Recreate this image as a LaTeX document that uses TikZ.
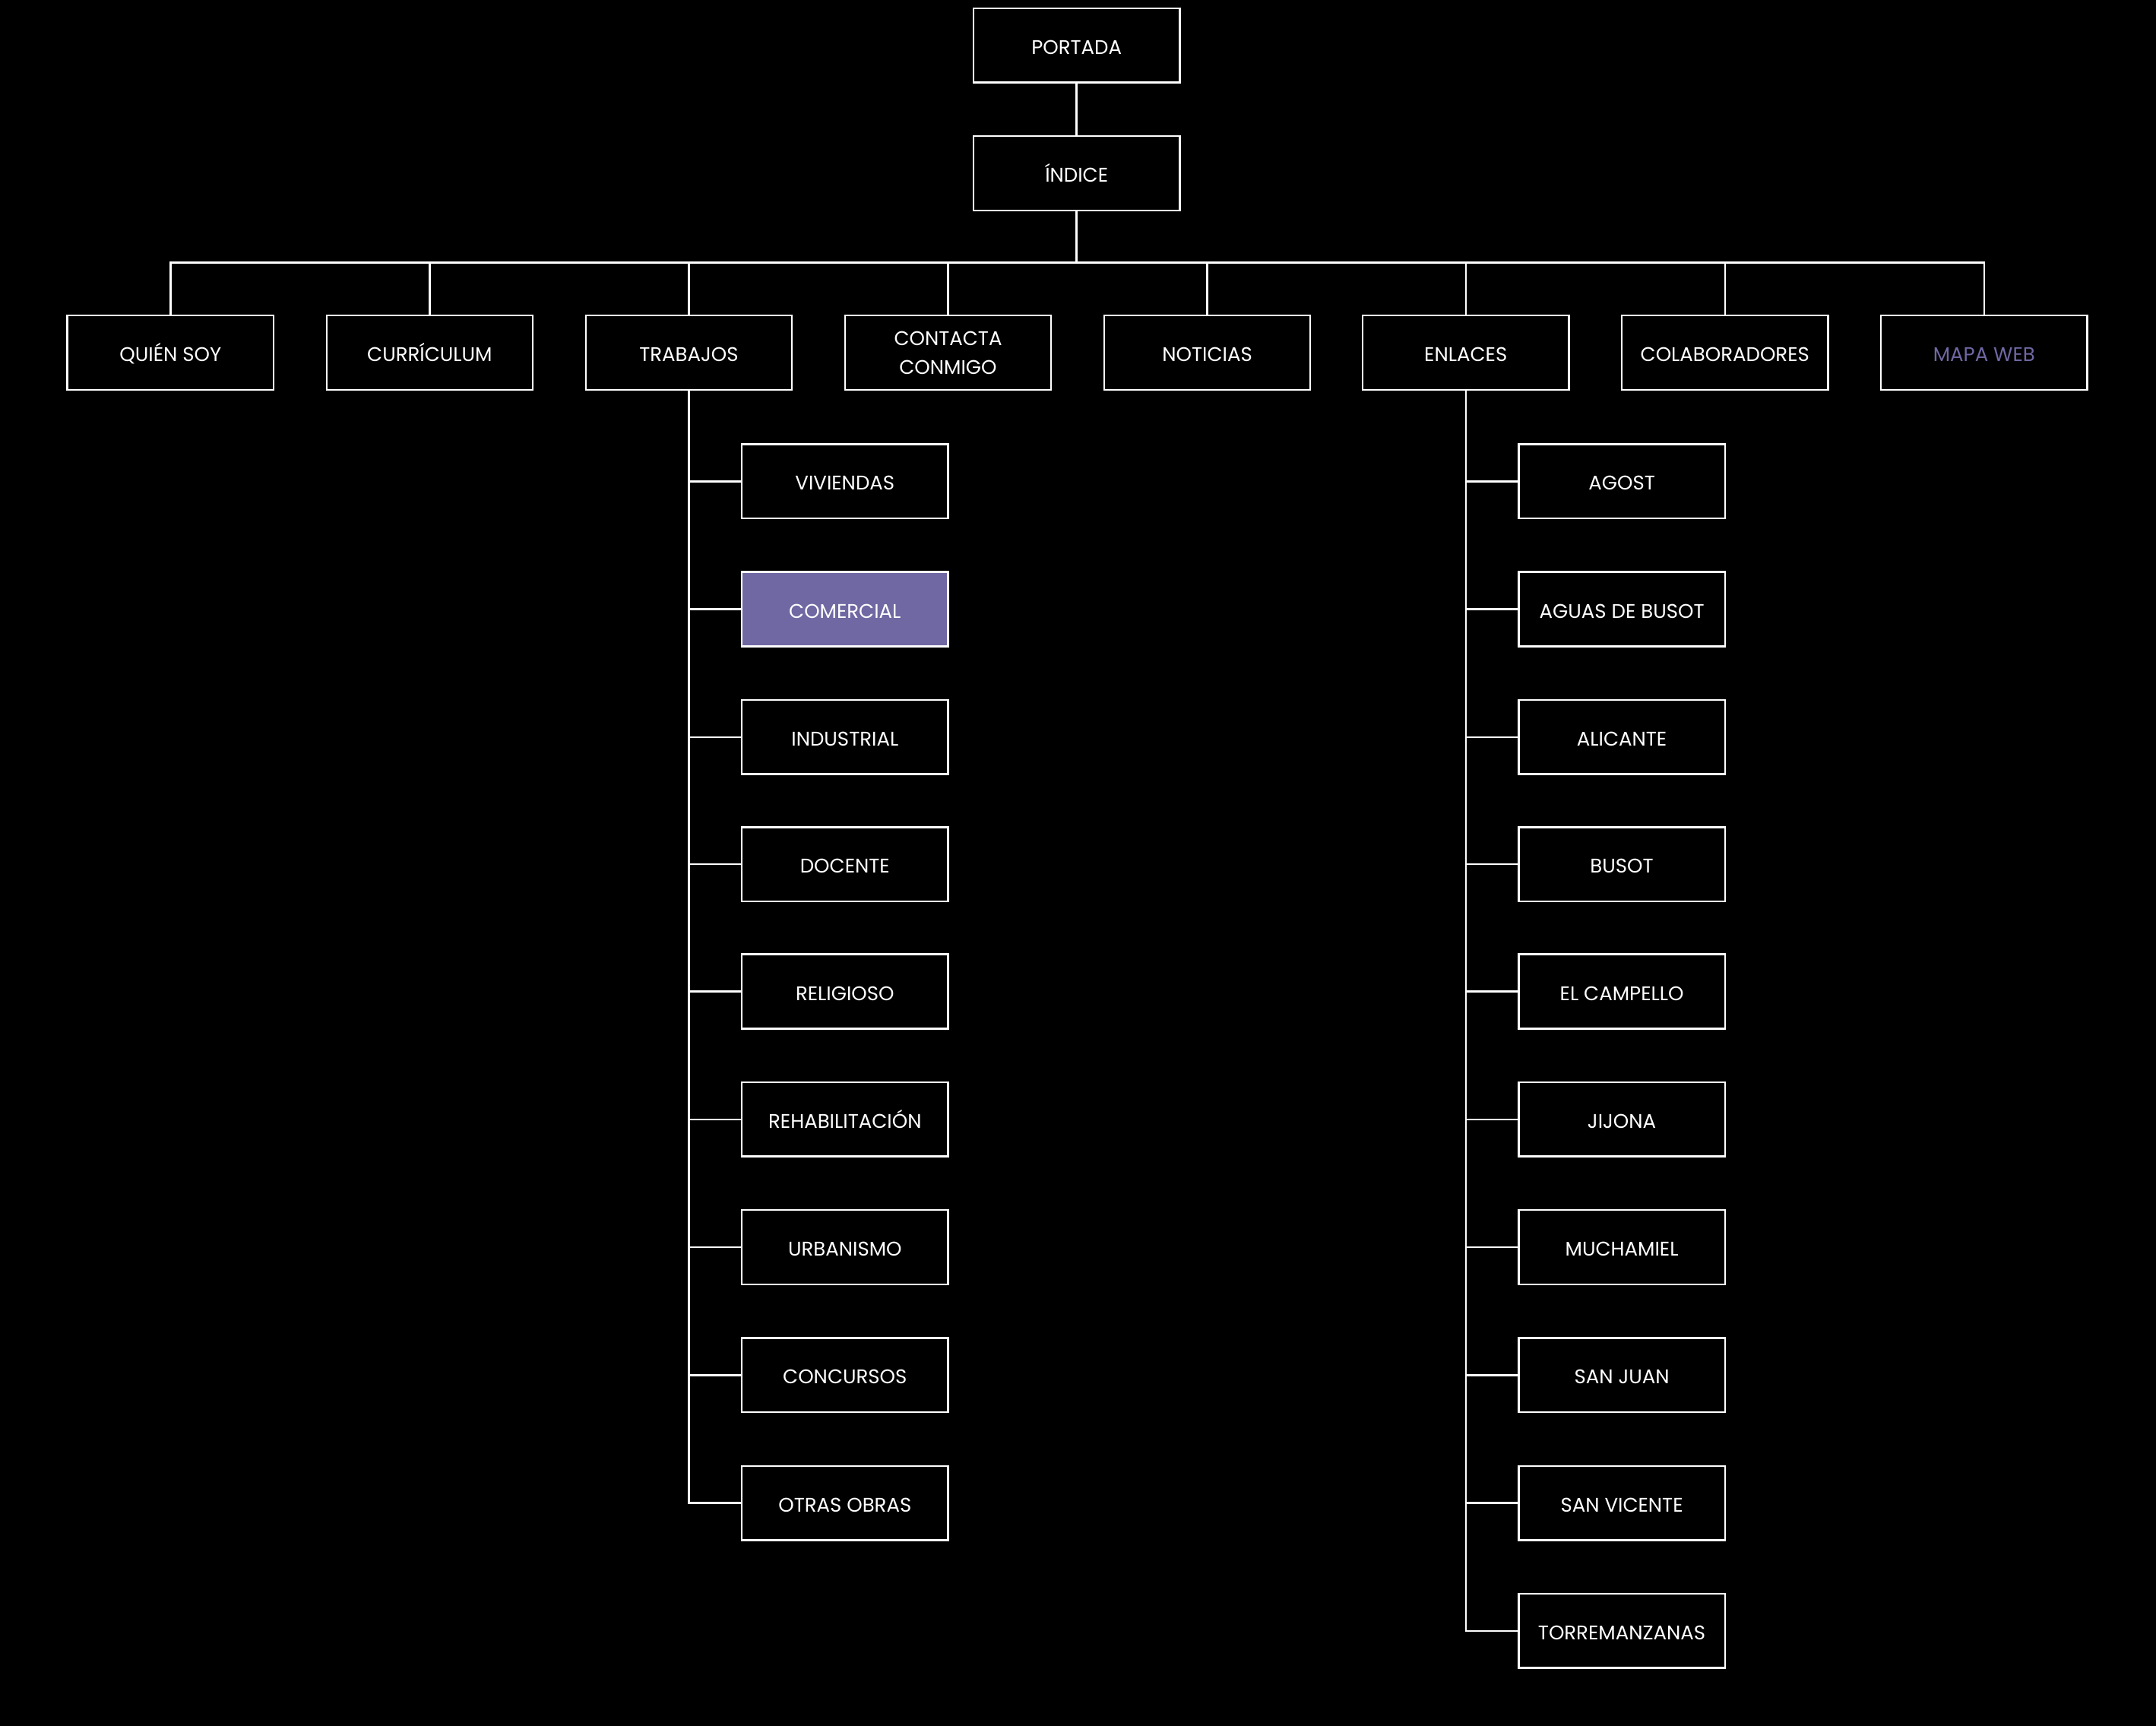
\documentclass[tikz,border=0pt]{standalone}
\usepackage{fontspec}
\setmainfont{Poppins}
\definecolor{lila}{RGB}{111,104,163}
\tikzset{
  caja/.style={draw=white, line width=0.7pt, fill=black, text=white,
    minimum width=2.714cm, minimum height=0.977cm, inner sep=1pt,
    text height=1.55ex, text depth=0.35ex,
    align=center, font=\fontsize{7.4}{10.8}\selectfont},
  activa/.style={caja, fill=lila},
  enlace/.style={draw=white, line width=0.7pt}
}
\begin{document}
\begin{tikzpicture}[x=0.018093cm, y=-0.018093cm]
\fill[black] (0,0) rectangle (1568,1255);
\useasboundingbox (0,0) rectangle (1568,1255);
% cabecera
\node[caja] (portada) at (783,33) {PORTADA};
\node[caja] (indice) at (783,126) {ÍNDICE};
\coordinate (bus) at (783,191);
% secciones
\node[caja] (quien) at (124,256.5) {QUIÉN SOY};
\node[caja] (curriculum) at (312.5,256.5) {CURRÍCULUM};
\node[caja] (trabajos) at (501,256.5) {TRABAJOS};
\node[caja, text height=, text depth=] (contacta) at (689.5,256.5) {CONTACTA\\CONMIGO};
\node[caja] (noticias) at (878,256.5) {NOTICIAS};
\node[caja] (enlaces) at (1066,256.5) {ENLACES};
\node[caja] (colaboradores) at (1254.5,256.5) {COLABORADORES};
\node[caja, text=lila] (mapa) at (1443,256.5) {MAPA WEB};
% trabajos
\node[caja] (viviendas) at (614.5,350) {VIVIENDAS};
\node[activa] (comercial) at (614.5,443) {COMERCIAL};
\node[caja] (industrial) at (614.5,536) {INDUSTRIAL};
\node[caja] (docente) at (614.5,628.5) {DOCENTE};
\node[caja] (religioso) at (614.5,721) {RELIGIOSO};
\node[caja] (rehabilitacion) at (614.5,814) {REHABILITACIÓN};
\node[caja] (urbanismo) at (614.5,907) {URBANISMO};
\node[caja] (concursos) at (614.5,1000) {CONCURSOS};
\node[caja] (otras) at (614.5,1093) {OTRAS OBRAS};
% enlaces
\node[caja] (agost) at (1179.5,350) {AGOST};
\node[caja] (aguas) at (1179.5,443) {AGUAS DE BUSOT};
\node[caja] (alicante) at (1179.5,536) {ALICANTE};
\node[caja] (busot) at (1179.5,628.5) {BUSOT};
\node[caja] (campello) at (1179.5,721) {EL CAMPELLO};
\node[caja] (jijona) at (1179.5,814) {JIJONA};
\node[caja] (muchamiel) at (1179.5,907) {MUCHAMIEL};
\node[caja] (sanjuan) at (1179.5,1000) {SAN JUAN};
\node[caja] (sanvicente) at (1179.5,1093) {SAN VICENTE};
\node[caja] (torremanzanas) at (1179.5,1186) {TORREMANZANAS};
% conectores
\draw[enlace] (portada) -- (indice);
\draw[enlace] (indice) -- (bus);
\draw[enlace] (quien.north) |- (bus);
\draw[enlace] (curriculum.north) |- (bus);
\draw[enlace] (trabajos.north) |- (bus);
\draw[enlace] (contacta.north) |- (bus);
\draw[enlace] (noticias.north) |- (bus);
\draw[enlace] (enlaces.north) |- (bus);
\draw[enlace] (colaboradores.north) |- (bus);
\draw[enlace] (mapa.north) |- (bus);
\draw[enlace] (trabajos.south) |- (viviendas.west);
\draw[enlace] (trabajos.south) |- (comercial.west);
\draw[enlace] (trabajos.south) |- (industrial.west);
\draw[enlace] (trabajos.south) |- (docente.west);
\draw[enlace] (trabajos.south) |- (religioso.west);
\draw[enlace] (trabajos.south) |- (rehabilitacion.west);
\draw[enlace] (trabajos.south) |- (urbanismo.west);
\draw[enlace] (trabajos.south) |- (concursos.west);
\draw[enlace] (trabajos.south) |- (otras.west);
\draw[enlace] (enlaces.south) |- (agost.west);
\draw[enlace] (enlaces.south) |- (aguas.west);
\draw[enlace] (enlaces.south) |- (alicante.west);
\draw[enlace] (enlaces.south) |- (busot.west);
\draw[enlace] (enlaces.south) |- (campello.west);
\draw[enlace] (enlaces.south) |- (jijona.west);
\draw[enlace] (enlaces.south) |- (muchamiel.west);
\draw[enlace] (enlaces.south) |- (sanjuan.west);
\draw[enlace] (enlaces.south) |- (sanvicente.west);
\draw[enlace] (enlaces.south) |- (torremanzanas.west);
\end{tikzpicture}
\end{document}
